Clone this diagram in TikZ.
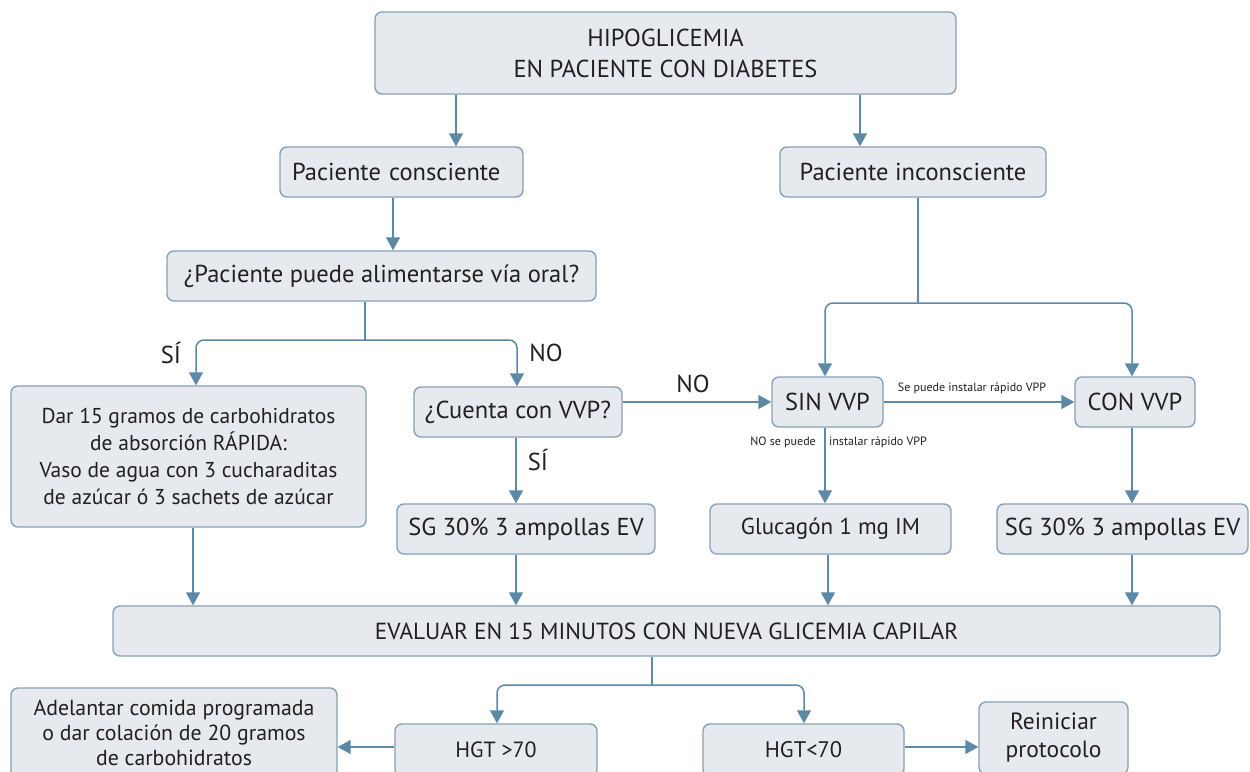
\documentclass[tikz,border=0pt]{standalone}
\usepackage{fontspec}
\setmainfont{PT Sans}
\usetikzlibrary{arrows.meta}
\definecolor{boxfill}{HTML}{E6EAEE}
\definecolor{boxline}{HTML}{87A1B7}
\definecolor{arr}{HTML}{5B89A6}
\definecolor{txt}{HTML}{231F20}
\newcommand\mainfs{\fontsize{24.5}{29}\selectfont}
\newcommand\topfs{\fontsize{24.5}{31}\selectfont}
\newcommand\smallfs{\fontsize{12}{14}\selectfont}
\tikzset{
 box/.style={draw=boxline, fill=boxfill, rounded corners=7pt, line width=1.4pt, text=txt, font=\mainfs, align=center, inner sep=0pt},
 conn/.style={draw=arr, line width=1.5pt, rounded corners=8pt},
 arrowc/.style={conn, -{Triangle[length=13pt,width=14pt]}},
 lbl/.style={text=txt, font=\mainfs, inner sep=0pt},
 smalllbl/.style={text=txt, font=\smallfs, inner sep=0pt}
}
\begin{document}
\begin{tikzpicture}[x=1pt,y=-1pt]
\path[use as bounding box] (0,0) rectangle (1250,771);
\clip (0,0) rectangle (1250,771);
\fill[white] (0,0) rectangle (1250,771);

% boxes
\node[box, minimum width=581pt, minimum height=82pt, font=\topfs] (top) at (665.5,53) {HIPOGLICEMIA\\EN PACIENTE CON DIABETES};
\node[box, minimum width=243pt, minimum height=50pt, align=left, text width=219pt] (pc) at (401.5,172) {Paciente consciente};
\node[box, minimum width=266pt, minimum height=50pt] (pi) at (913,172) {Paciente inconsciente};
\node[box, minimum width=429pt, minimum height=50pt] (q1) at (381.5,276) {¿Paciente puede alimentarse vía oral?};
\node[box, minimum width=355pt, minimum height=141pt, font=\fontsize{21.5}{26.7}\selectfont] (dar) at (188.5,456.5) {Dar 15 gramos de carbohidratos\\de absorción RÁPIDA:\\Vaso de agua con 3 cucharaditas\\de azúcar ó 3 sachets de azúcar};
\node[box, minimum width=208pt, minimum height=50pt] (cuenta) at (518,412) {¿Cuenta con VVP?};
\node[box, minimum width=111pt, minimum height=50pt] (sin) at (827.5,402) {SIN VVP};
\node[box, minimum width=120pt, minimum height=50pt] (con) at (1135,402) {CON VVP};
\node[box, minimum width=258pt, minimum height=50pt] (sg1) at (526,529) {SG 30\% 3 ampollas EV};
\node[box, minimum width=241pt, minimum height=50pt, font=\fontsize{23}{27}\selectfont] (glu) at (830.5,529) {Glucagón 1 mg IM};
\node[box, minimum width=251pt, minimum height=50pt] (sg2) at (1122.5,529) {SG 30\% 3 ampollas EV};
\node[box, minimum width=1107pt, minimum height=50pt, font=\fontsize{23.3}{27}\selectfont] (eval) at (666.5,631) {EVALUAR EN 15 MINUTOS CON NUEVA GLICEMIA CAPILAR};
\node[box, minimum width=326pt, minimum height=90pt, font=\fontsize{21.8}{24.8}\selectfont] (adel) at (174,733) {Adelantar comida programada\\o dar colación de 20 gramos\\de carbohidratos};
\node[box, minimum width=202pt, minimum height=52pt, font=\fontsize{22}{26}\selectfont] (hgt1) at (496,750) {HGT >70};
\node[box, minimum width=201pt, minimum height=52pt, font=\fontsize{22.5}{26}\selectfont] (hgt2) at (803.5,750) {HGT<70};
\node[box, minimum width=149pt, minimum height=72pt, font=\fontsize{23.5}{28}\selectfont] (rein) at (1053.5,738) {Reiniciar\\protocolo};

% connectors
\draw[arrowc] (top.south -| 456,0) -- (pc.north -| 456,0);
\draw[arrowc] (top.south -| 860,0) -- (pi.north -| 860,0);
\draw[arrowc] (pc.south -| 393,0) -- (q1.north -| 393,0);
\draw[conn] (q1.south -| 365,0) -- (365,340) coordinate (j1);
\draw[arrowc] (j1) -| (dar.north -| 196,0);
\draw[arrowc] (j1) -| (cuenta.north -| 517,0);
\node[lbl] (si1) at (171,353) {SÍ};
\node[lbl] (no1) at (546,353) {NO};

\draw[arrowc] (cuenta.east |- 0,402) -- (sin.west);
\node[lbl] (no2) at (693,384) {NO};

\draw[conn] (pi.south -| 918,0) -- (918,303) coordinate (j2);
\draw[arrowc] (j2) -| (sin.north -| 825,0);
\draw[arrowc] (j2) -| (con.north -| 1132,0);

\draw[arrowc] (sin.east) -- (con.west);
\node[smalllbl] (lb1) at (972,388) {Se puede instalar rápido VPP};
\draw[arrowc] (sin.south -| 825,0) -- (glu.north -| 825,0);
\node[smalllbl, anchor=east] (lb2) at (816,442) {NO se puede};
\node[smalllbl, anchor=west] (lb3) at (829,442) {instalar rápido VPP};

\draw[arrowc] (cuenta.south -| 516,0) -- (sg1.north -| 516,0);
\node[lbl] (si2) at (538,460) {SÍ};
\draw[arrowc] (con.south -| 1132,0) -- (sg2.north -| 1132,0);

\draw[arrowc] (dar.south -| 193,0) -- (eval.north -| 193,0);
\draw[arrowc] (sg1.south -| 516,0) -- (eval.north -| 516,0);
\draw[arrowc] (glu.south -| 828,0) -- (eval.north -| 828,0);
\draw[arrowc] (sg2.south -| 1132,0) -- (eval.north -| 1132,0);

\draw[conn] (eval.south -| 652,0) -- (652,685) coordinate (j3);
\draw[arrowc] (j3) -| (hgt1.north -| 497,0);
\draw[arrowc] (j3) -| (hgt2.north -| 804,0);
\draw[arrowc] (hgt1.west |- 0,747) -- (adel.east |- 0,747);
\draw[arrowc] (hgt2.east |- 0,747) -- (rein.west |- 0,747);
\end{tikzpicture}
\end{document}
